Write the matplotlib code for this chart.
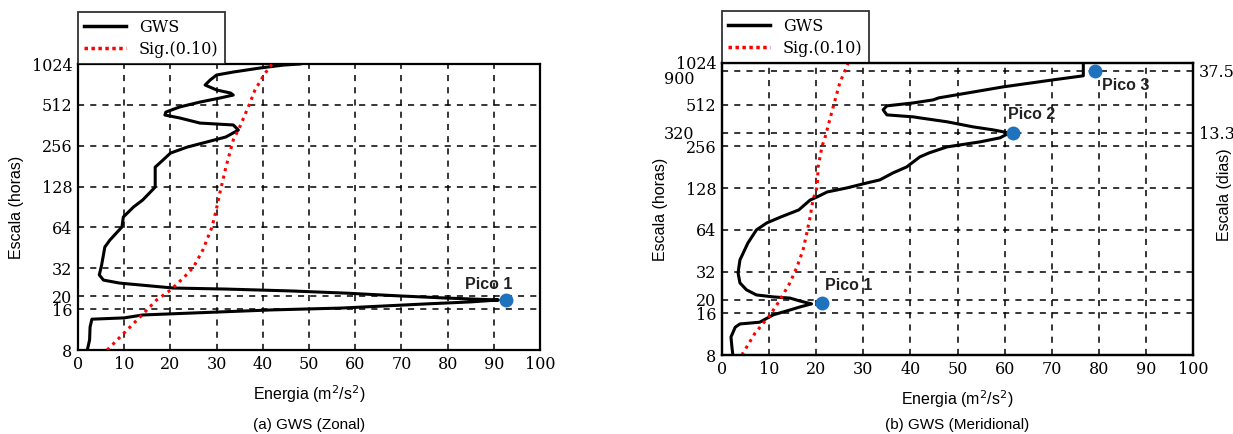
import matplotlib
matplotlib.use('Agg')
import matplotlib.pyplot as plt
from matplotlib.lines import Line2D

# ---- data (scale in hours, energy in m2/s2) ----
zonal_scale = [8, 9.5, 11.8, 13.5, 13.8, 14.5, 15.0, 15.8, 16.3, 17.5, 18.1, 18.7,
               19.3, 20.0, 21.0, 21.8, 22.5, 22.9, 24.9, 26.2, 28.6, 33.8, 45.9,
               51.7, 64.5, 76.4, 90.5, 102, 127, 178, 201, 226, 250, 273, 297,
               334, 364, 376, 410, 431, 453, 494, 537, 575, 605, 626, 659, 717,
               781, 850, 894, 957, 1006, 1024]
zonal_gws = [2.0, 2.5, 2.6, 3.0, 10, 14, 25, 42, 57, 75.5, 85, 91,
             80, 70, 58, 46, 32, 20.6, 9, 5.5, 4.6, 5.1, 5.8,
             6.9, 9.5, 9.8, 12, 14, 16.7, 16.7, 18.4, 20, 23.6, 27.9, 32,
             34.7, 33.6, 26.4, 22, 18.8, 19, 22, 26.4, 30.7, 33.6, 33, 30, 27.5,
             28.6, 30, 33.6, 39.4, 44.5, 48]
zonal_sig_scale = [8, 10.7, 14.0, 18.7, 22.1, 27.6, 32.7, 43.6, 64.5, 86, 115,
                   178, 282, 352, 528, 659, 878, 1024]
zonal_sig = [6.3, 10, 13.4, 17, 20, 23, 25, 27, 29, 29.9, 30.7, 32, 33.6, 35,
             37.2, 38.3, 40.5, 42]

merid_scale = [8, 9.1, 10.8, 12.7, 13.4, 13.8, 15.6, 16.9, 17.8, 18.7, 19.6,
               20.6, 21.0, 21.7, 23.6, 26.5, 31.3, 38.8, 51.5, 63.9, 71.8, 79.3,
               89.1, 105, 110.6, 120, 128.4, 139.6, 146.7, 164.8, 182, 215, 230,
               254, 276, 295, 320, 337, 354, 385, 411, 418, 432, 470, 502, 527,
               554, 573, 688, 773, 827, 1024]
merid_gws = [2.3, 2.1, 1.9, 2.8, 3.8, 8, 10.9, 14.4, 16.6, 19, 16.6,
             14.4, 10.9, 7.3, 5.2, 3.8, 3.4, 3.8, 5.5, 7.3, 9.5, 12.5,
             16.3, 18.7, 20.2, 22.3, 26.5, 30.8, 33.5, 36.3, 39.2, 42, 44,
             47.8, 54.8, 59, 61, 57.5, 53.3, 47.8, 42, 40.6, 35, 34.2, 35, 40.6,
             44.8, 46, 59.7, 70.3, 76.7, 76.7]
merid_sig_scale = [8, 11.5, 15.55, 19.96, 26.5, 34.5, 45.8, 60.8, 79.3, 105,
                   130.6, 182, 254, 300, 494, 736, 1024]
merid_sig = [4.2, 7, 10.2, 12.3, 14.4, 15.9, 17.2, 18, 18.7, 19.3, 20.2, 20.4,
             21.2, 21.9, 23.6, 25, 26.8]

zonal_peaks = [(92.7, 18.7, 'Pico 1')]
merid_peaks = [(21.2, 19.0, 'Pico 1'), (61.8, 320, 'Pico 2'), (79.2, 900, 'Pico 3')]

energy_ticks = list(range(0, 101, 10))
zonal_yticks = [8, 16, 20, 32, 64, 128, 256, 512, 1024]
merid_yticks = [8, 16, 20, 32, 64, 128, 256, 512, 1024]
merid_extra = [320, 900]
dias_labels = ['13.3', '37.5']

serif = 'DejaVu Serif'
sans = 'Liberation Sans'
peak_blue = '#1f72bd'

fig = plt.figure(figsize=(12.33, 4.34), dpi=100)
ax1 = fig.add_axes([0.0633, 0.1935, 0.3747, 0.659])
ax2 = fig.add_axes([0.5856, 0.182, 0.382, 0.673])


def setup(ax, yticks, grid_y):
    ax.set_yscale('log', base=2)
    ax.set_xlim(0, 100)
    ax.set_ylim(8, 1024)
    ax.set_xticks(energy_ticks)
    ax.set_yticks(yticks)
    ax.set_yticklabels([str(t) for t in yticks])
    ax.minorticks_off()
    ax.tick_params(length=0, pad=4, labelsize=11.5)
    for lab in ax.get_xticklabels() + ax.get_yticklabels():
        lab.set_fontfamily(serif)
    for s in ax.spines.values():
        s.set_linewidth(1.6)
    for x in energy_ticks[1:-1]:
        ax.axvline(x, color='black', ls=(0, (4, 4)), lw=1.1, zorder=1)
    for y in grid_y:
        ax.axhline(y, color='black', ls=(0, (4, 4)), lw=1.1, zorder=1)
    ax.set_xlabel('Energia (m$^2$/s$^2$)', fontfamily=sans, fontsize=11.5, labelpad=8)
    ax.set_ylabel('Escala (horas)', fontfamily=sans, fontsize=11.5, labelpad=6)
    leg_handles = [Line2D([], [], color='black', lw=2.5),
                   Line2D([], [], color='red', lw=2.5, ls=(0, (1, 1)))]
    leg = ax.legend(leg_handles, ['GWS', 'Sig.(0.10)'], loc='lower left',
                    bbox_to_anchor=(0, 1), borderaxespad=0, frameon=True,
                    fancybox=False, edgecolor='black', handlelength=2.6,
                    prop={'family': serif, 'size': 11.5}, labelspacing=0.3,
                    borderpad=0.4)
    leg.get_frame().set_linewidth(1.3)


# ---- (a) zonal ----
setup(ax1, zonal_yticks, [16, 20, 32, 64, 128, 256, 512])
ax1.plot(zonal_gws, zonal_scale, color='black', lw=2.2, zorder=3)
ax1.plot(zonal_sig, zonal_sig_scale, color='red', lw=2.2, ls=(0, (1, 1.5)), zorder=3)
for e, s, name in zonal_peaks:
    ax1.plot(e, s, 'o', color=peak_blue, ms=9, zorder=4)
    ax1.annotate(name, (e, s), xytext=(-30, 8), textcoords='offset points',
                 fontfamily=sans, fontweight='bold', fontsize=11.5, color='#222222')
fig.text(0.251, 0.012, '(a) GWS (Zonal)', ha='center', fontfamily=sans, fontsize=11)

# ---- (b) meridional ----
setup(ax2, merid_yticks, [16, 20, 32, 64, 128, 256, 320, 512, 900])
ax2.plot(merid_gws, merid_scale, color='black', lw=2.2, zorder=3)
ax2.plot(merid_sig, merid_sig_scale, color='red', lw=2.2, ls=(0, (1, 1.5)), zorder=3)
offsets = [(2, 9), (-4, 10), (5, -14)]
for (e, s, name), off in zip(merid_peaks, offsets):
    ax2.plot(e, s, 'o', color=peak_blue, ms=9, zorder=4)
    ax2.annotate(name, (e, s), xytext=off, textcoords='offset points',
                 fontfamily=sans, fontweight='bold', fontsize=11.5, color='#222222')
# 320 and 900 hour labels sit further left, as in the original figure
for s, dy in zip(merid_extra, [-1, -6]):
    ax2.annotate(str(s), (0, s), xycoords=('axes fraction', 'data'),
                 xytext=(-20, dy), textcoords='offset points', ha='right',
                 va='center', fontfamily=serif, fontsize=11.5)

ax2r = ax2.twinx()
ax2r.set_yscale('log', base=2)
ax2r.set_ylim(8, 1024)
ax2r.set_yticks(merid_extra)
ax2r.set_yticklabels(dias_labels)
ax2r.minorticks_off()
ax2r.tick_params(length=0, pad=4, labelsize=11.5)
for lab in ax2r.get_yticklabels():
    lab.set_fontfamily(serif)
ax2r.set_ylabel('Escala (dias)', fontfamily=sans, fontsize=11.5)
ax2r.yaxis.set_label_coords(1.05, 0.55)
for s in ax2r.spines.values():
    s.set_linewidth(1.6)
fig.text(0.776, 0.012, '(b) GWS (Meridional)', ha='center', fontfamily=sans, fontsize=11)

fig.savefig('out.png', dpi=100)
